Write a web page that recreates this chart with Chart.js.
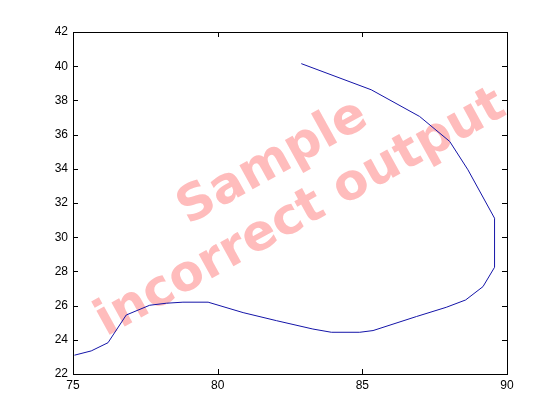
<!DOCTYPE html>
<html>
<head>
<meta charset="utf-8">
<script src="https://cdn.jsdelivr.net/npm/chart.js@4"></script>
<style>
  html, body { margin: 0; padding: 0; background: #fff; }
  #wrap { width: 560px; height: 420px; }
</style>
</head>
<body>
<div id="wrap"><canvas id="plot" width="560" height="420"></canvas></div>
<script>
// curve points
const xValues = [75.05, 75.63, 76.21, 76.84, 77.65, 78.23, 78.8, 79.67, 80.88, 82.03,
                 83.29, 83.93, 84.91, 85.37, 86.87, 87.9, 88.57, 89.17, 89.57, 89.57,
                 88.65, 88.02, 86.98, 85.31, 82.89];
const yValues = [23.1, 23.35, 23.83, 25.45, 26.02, 26.14, 26.2, 26.2, 25.59, 25.12,
                 24.63, 24.44, 24.44, 24.54, 25.36, 25.9, 26.33, 27.11, 28.24, 31.11,
                 33.94, 35.6, 37.06, 38.62, 40.15];
const xTicks = [75, 80, 85, 90];
const yTicks = [22, 24, 26, 28, 30, 32, 34, 36, 38, 40, 42];
const watermark = ['Sample', 'incorrect output'];

const points = xValues.map((x, i) => ({ x: x, y: yValues[i] }));

// box + inward ticks, matlab style
const boxTicks = {
  id: 'boxTicks',
  afterDraw(chart) {
    const { ctx, chartArea: a, scales: { x, y } } = chart;
    ctx.save();
    ctx.strokeStyle = '#000';
    ctx.lineWidth = 1;
    ctx.beginPath();
    xTicks.forEach(v => {
      const px = Math.round(x.getPixelForValue(v)) + 0.5;
      ctx.moveTo(px, a.bottom); ctx.lineTo(px, a.bottom - 5);
      ctx.moveTo(px, a.top); ctx.lineTo(px, a.top + 5);
    });
    yTicks.forEach(v => {
      const py = Math.round(y.getPixelForValue(v)) + 0.5;
      ctx.moveTo(a.left, py); ctx.lineTo(a.left + 5, py);
      ctx.moveTo(a.right, py); ctx.lineTo(a.right - 5, py);
    });
    ctx.stroke();
    ctx.strokeRect(Math.round(a.left) + 0.5, Math.round(a.top) + 0.5,
                   Math.round(a.right - a.left), Math.round(a.bottom - a.top));
    ctx.restore();
  }
};

const stamp = {
  id: 'stamp',
  beforeDatasetsDraw(chart) {
    const { ctx } = chart;
    ctx.save();
    ctx.fillStyle = '#ffbcbc';
    ctx.textAlign = 'center';
    ctx.textBaseline = 'alphabetic';
    ctx.translate(285, 185);
    ctx.rotate(-29 * Math.PI / 180);
    ctx.font = 'bold 50px "DejaVu Sans"';
    ctx.fillText(watermark[0], 0, -12);
    ctx.fillText(watermark[1], 0, 46);
    ctx.restore();
  }
};

new Chart(document.getElementById('plot'), {
  type: 'scatter',
  data: {
    datasets: [{
      data: points,
      showLine: true,
      borderColor: '#1414a8',
      borderWidth: 1,
      pointRadius: 0,
      tension: 0
    }]
  },
  options: {
    responsive: false,
    animation: false,
    layout: { padding: { top: 32, right: 53, left: 0, bottom: 0 } },
    plugins: { legend: { display: false }, tooltip: { enabled: false } },
    scales: {
      x: {
        type: 'linear', min: 75, max: 90,
        afterBuildTicks: s => { s.ticks = xTicks.map(v => ({ value: v })); },
        afterFit: s => { s.height = 46; },
        grid: { display: false, drawTicks: false },
        border: { display: false },
        ticks: { color: '#000', padding: 4, font: { family: '"Liberation Sans"', size: 12 } }
      },
      y: {
        type: 'linear', min: 22, max: 42,
        afterBuildTicks: s => { s.ticks = yTicks.map(v => ({ value: v })); },
        afterFit: s => { s.width = 73; },
        grid: { display: false, drawTicks: false },
        border: { display: false },
        ticks: { color: '#000', padding: 5, font: { family: '"Liberation Sans"', size: 12 } }
      }
    }
  },
  plugins: [stamp, boxTicks]
});
</script>
</body>
</html>
